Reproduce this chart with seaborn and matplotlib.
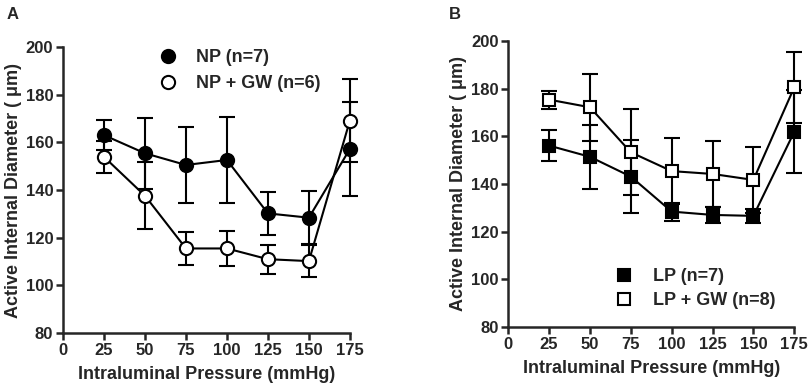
import numpy as np
import pandas as pd
import matplotlib
matplotlib.use("Agg")
import matplotlib.pyplot as plt
import seaborn as sns

# data
pressure = [25, 50, 75, 100, 125, 150, 175]

np_mean = [163, 155.4, 150.5, 152.6, 130.2, 128.4, 157.2]
np_sem = [6.3, 15, 16, 18, 9, 11, 19.5]
npgw_mean = [153.9, 137.6, 115.5, 115.5, 111, 110.2, 169.1]
npgw_sem = [6.7, 14, 7, 7.5, 6, 6.8, 17.5]

lp_mean = [156.1, 151.4, 143.1, 128.4, 127, 126.6, 161.9]
lp_sem = [6.5, 13.5, 15.4, 3.8, 3.5, 3, 17.4]
lpgw_mean = [175.4, 172.2, 153.3, 145.4, 144.2, 141.7, 180.6]
lpgw_sem = [3.8, 14, 18, 14, 14, 13.7, 14.9]

sns.set_style("ticks")
plt.rcParams['font.family'] = ['Liberation Sans', 'DejaVu Sans']
plt.rcParams['font.weight'] = 'bold'

fig = plt.figure(figsize=(8.08, 3.91), dpi=100)
axA = fig.add_axes([0.078, 0.148, 0.355, 0.732])
axB = fig.add_axes([0.629, 0.164, 0.354, 0.731])


def draw(ax, mean, sem, label, marker, filled, ms):
    df = pd.DataFrame({'x': pressure, 'y': mean})
    ax.errorbar(pressure, mean, yerr=sem, fmt='none', ecolor='black',
                elinewidth=1.5, capsize=6, capthick=1.5, clip_on=False, zorder=2)
    sns.lineplot(data=df, x='x', y='y', ax=ax, color='black', linewidth=1.5,
                 marker=marker, markersize=ms, markeredgewidth=1.5,
                 markeredgecolor='black', markerfacecolor='black' if filled else 'white',
                 label=label, clip_on=False, zorder=3)


draw(axA, np_mean, np_sem, 'NP (n=7)', 'o', True, 9.5)
draw(axA, npgw_mean, npgw_sem, 'NP + GW (n=6)', 'o', False, 9.5)
draw(axB, lp_mean, lp_sem, 'LP (n=7)', 's', True, 8.5)
draw(axB, lpgw_mean, lpgw_sem, 'LP + GW (n=8)', 's', False, 8.5)

for ax in [axA, axB]:
    ax.set_xlim(0, 175)
    ax.set_ylim(80, 200)
    ax.set_xticks(range(0, 176, 25))
    ax.set_yticks(range(80, 201, 20))
    ax.set_xlabel('Intraluminal Pressure (mmHg)', fontsize=13, fontweight='bold', labelpad=6)
    ax.set_ylabel('Active Internal Diameter ( \u03bcm)', fontsize=13, fontweight='bold', labelpad=3)
    sns.despine(ax=ax)
    for s in ['left', 'bottom']:
        ax.spines[s].set_linewidth(1.8)
    ax.tick_params(width=1.8, length=5, labelsize=12, pad=2)
    for t in ax.get_xticklabels() + ax.get_yticklabels():
        t.set_fontweight('bold')

axA.legend(loc='upper left', bbox_to_anchor=(0.27, 1.05), frameon=False,
           handlelength=1.2, handletextpad=1.0, labelspacing=0.5,
           prop={'weight': 'bold', 'size': 13})
for h in axA.get_legend().get_lines():
    h.set_linestyle('none')
axB.legend(loc='lower left', bbox_to_anchor=(0.31, 0.005), frameon=False,
           handlelength=1.2, handletextpad=1.0, labelspacing=0.4,
           prop={'weight': 'bold', 'size': 13})
for h in axB.get_legend().get_lines():
    h.set_linestyle('none')

fig.text(0.008, 0.952, 'A', fontsize=12, fontweight='bold')
fig.text(0.555, 0.952, 'B', fontsize=12, fontweight='bold')

fig.savefig('out.png', dpi=100)
